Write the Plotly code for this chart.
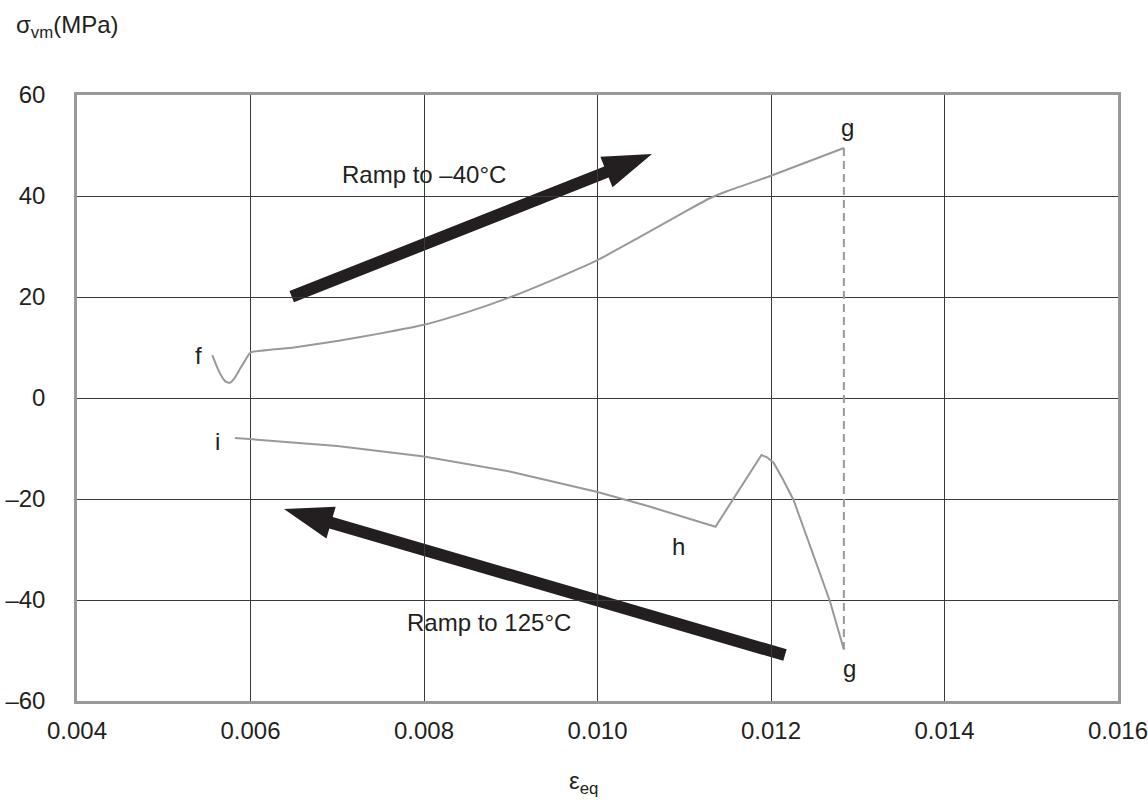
import math
import plotly.graph_objects as go

# ---- data ----
cool_x = [0.00556, 0.00561, 0.00566, 0.00571, 0.00576, 0.00581, 0.00587, 0.00594, 0.00600,
          0.00650, 0.00700, 0.00750, 0.00800, 0.00850, 0.00900, 0.00950, 0.01000, 0.01050,
          0.01100, 0.01130, 0.01150, 0.01200, 0.01284]
cool_y = [8.5, 6.3, 4.5, 3.3, 3.0, 3.8, 5.5, 7.5, 9.0,
          10.0, 11.3, 12.8, 14.5, 17.0, 20.0, 23.5, 27.3, 32.0,
          36.8, 39.6, 41.0, 44.0, 49.5]

drop_x = [0.01284, 0.01284]
drop_y = [49.5, -49.8]

heat_x = [0.01284, 0.01276, 0.01268, 0.01257, 0.01245, 0.01235, 0.01226, 0.01214,
          0.01203, 0.01195, 0.01189, 0.01136, 0.01060, 0.01000, 0.00900, 0.00800, 0.00700, 0.00582]
heat_y = [-49.8, -45.0, -40.3, -35.0, -29.4, -24.5, -20.2, -16.2,
          -12.8, -11.7, -11.3, -25.5, -21.5, -18.6, -14.6, -11.6, -9.5, -7.9]

x_ticks = [0.004, 0.006, 0.008, 0.010, 0.012, 0.014, 0.016]
x_ticktext = ["0.004", "0.006", "0.008", "0.010", "0.012", "0.014", "0.016"]
y_ticks = [-60, -40, -20, 0, 20, 40, 60]
y_ticktext = ["\u201360", "\u201340", "\u201320", "0", "20", "40", "60"]

# point labels: (text, x, y)
point_labels = [("f", 0.005395, 8.5), ("g", 0.01288, 53.5), ("g", 0.01290, -53.6),
                ("h", 0.010928, -29.5), ("i", 0.005614, -8.7)]
ramp_labels = [("Ramp to \u201340\u00b0C", 0.00800, 44.2), ("Ramp to 125\u00b0C", 0.00875, -44.4)]
# arrows: (tail_x, tail_y, tip_x, tip_y)
arrows = [(0.006475, 20.06, 0.010628, 48.32), (0.012161, -50.9, 0.006386, -21.98)]

# ---- layout geometry ----
W, H = 1148, 800
ML, MT, MR, MB = 77, 95, 30, 99
PW, PH = W - ML - MR, H - MT - MB
X0, X1, Y0, Y1 = 0.004, 0.016, -60, 60
sx = PW / (X1 - X0)
sy = PH / (Y1 - Y0)

FONT = "Liberation Sans, Arial, Helvetica, sans-serif"
TXT = "#231f20"
GRAY = "#999999"
FS = 24

fig = go.Figure()
fig.add_trace(go.Scatter(x=cool_x, y=cool_y, mode="lines",
                         line=dict(color=GRAY, width=2, shape="spline", smoothing=0.5),
                         hoverinfo="skip"))
fig.add_trace(go.Scatter(x=drop_x, y=drop_y, mode="lines", line=dict(color=GRAY, width=2, dash="8px,5px"),
                         hoverinfo="skip"))
fig.add_trace(go.Scatter(x=heat_x, y=heat_y, mode="lines", line=dict(color=GRAY, width=2),
                         hoverinfo="skip"))


def arrow_path(tx, ty, hx, hy, shaft=12, head_len=49, head_w=33):
    px0, py0 = tx * sx, ty * sy
    px1, py1 = hx * sx, hy * sy
    dx, dy = px1 - px0, py1 - py0
    L = math.hypot(dx, dy)
    ux, uy = dx / L, dy / L
    nx, ny = -uy, ux
    bx, by = px1 - ux * head_len, py1 - uy * head_len
    pts = [
        (px0 + nx * shaft / 2, py0 + ny * shaft / 2),
        (bx + nx * shaft / 2, by + ny * shaft / 2),
        (bx + nx * head_w / 2, by + ny * head_w / 2),
        (px1, py1),
        (bx - nx * head_w / 2, by - ny * head_w / 2),
        (bx - nx * shaft / 2, by - ny * shaft / 2),
        (px0 - nx * shaft / 2, py0 - ny * shaft / 2),
    ]
    return "M " + " L ".join(f"{p[0] / sx},{p[1] / sy}" for p in pts) + " Z"


for (tx, ty, hx, hy) in arrows:
    fig.add_shape(type="path", path=arrow_path(tx, ty, hx, hy), xref="x", yref="y",
                  fillcolor=TXT, line=dict(width=0), layer="below")

for (t, x, y) in point_labels + ramp_labels:
    fig.add_annotation(x=x, y=y, text=t, showarrow=False, font=dict(size=FS, color=TXT, family=FONT),
                       xanchor="center", yanchor="middle")

# axis titles
fig.add_annotation(xref="paper", yref="paper", x=(14 - ML) / PW, y=(H - MB - 27) / PH,
                   text="\u03c3<sub>vm</sub>(MPa)", showarrow=False, xanchor="left", yanchor="middle",
                   font=dict(size=FS, color=TXT, family=FONT))
fig.add_annotation(xref="paper", yref="paper", x=(583 - ML) / PW, y=(H - MB - 782) / PH,
                   text="\u03b5<sub>eq</sub>", showarrow=False, xanchor="center", yanchor="middle",
                   font=dict(size=FS, color=TXT, family=FONT))

fig.update_layout(
    width=W, height=H,
    margin=dict(l=ML, r=MR, t=MT, b=MB, autoexpand=False),
    paper_bgcolor="white", plot_bgcolor="white",
    showlegend=False,
    font=dict(family=FONT, size=FS, color=TXT),
)
fig.update_xaxes(range=[X0, X1], tickvals=x_ticks, ticktext=x_ticktext, showgrid=True,
                 gridcolor="#3a3a3a", gridwidth=1, zeroline=False, showline=True, mirror=True,
                 linecolor=GRAY, linewidth=2.5, ticks="", ticklabelstandoff=6, automargin=False,
                 ticklabeloverflow="allow", tickfont=dict(size=FS, color=TXT, family=FONT))
fig.update_yaxes(range=[Y0, Y1], tickvals=y_ticks, ticktext=y_ticktext, showgrid=True,
                 gridcolor="#3a3a3a", gridwidth=1, zeroline=False, showline=True, mirror=True,
                 linecolor=GRAY, linewidth=2.5, ticks="", ticklabelstandoff=24, automargin=False,
                 ticklabeloverflow="allow", tickfont=dict(size=FS, color=TXT, family=FONT))

fig.write_html("out.html", config={"displayModeBar": False},
               post_script="document.body.style.margin='0';document.body.style.overflow='hidden';")
